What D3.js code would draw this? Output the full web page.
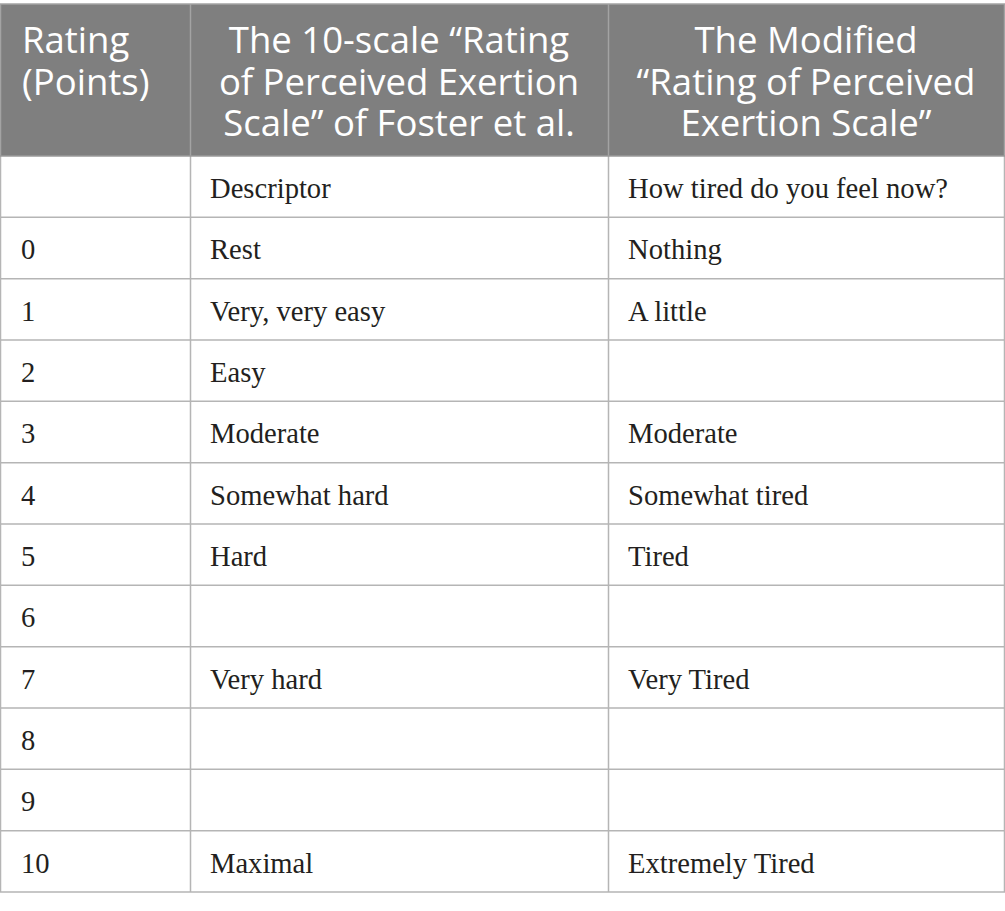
<!DOCTYPE html>
<html>
<head>
<meta charset="utf-8">
<script src="https://cdn.jsdelivr.net/npm/d3@7"></script>
<style>
  body { margin: 0; background: #fff; }
  svg { display: block; }
</style>
</head>
<body>
<div id="table"></div>
<script>

// header text, one entry per line, per column
var headers = [
	["Rating", "(Points)"],
	["The 10-scale \u201cRating", "of Perceived Exertion", "Scale\u201d of Foster et al."],
	["The Modified", "\u201cRating of Perceived", "Exertion Scale\u201d"]
]

var subHeader = ["", "Descriptor", "How tired do you feel now?"]

var ratings = ["0", "1", "2", "3", "4", "5", "6", "7", "8", "9", "10"]

var foster = ["Rest", "Very, very easy", "Easy", "Moderate", "Somewhat hard", "Hard", "", "Very hard", "", "", "Maximal"]

var modified = ["Nothing", "A little", "", "Moderate", "Somewhat tired", "Tired", "", "Very Tired", "", "", "Extremely Tired"]


var width = 1005, height = 911
var headTop = 4, headBottom = 156, tableBottom = 892
var colEdges = [0, 190, 608, 1004]

var rows = [subHeader].concat(ratings.map(function(r, i) { return [r, foster[i], modified[i]]; }))

var y = d3.scaleLinear()
	.domain([0, rows.length])
	.range([headBottom, tableBottom])

var svg = d3.select('#table')
	.append('svg')
	.attr('width', width)
	.attr('height', height)

// header background
svg.append("rect")
	.attr("x", colEdges[0])
	.attr("y", headTop)
	.attr("width", colEdges[3] - colEdges[0] + 1)
	.attr("height", headBottom - headTop)
	.attr("fill", "#7f7f7f")

// header column separators
svg.append("g")
	.selectAll("line")
	.data(colEdges)
	.enter().append("line")
	  .attr("x1", function(d) { return d + 0.5; })
	  .attr("x2", function(d) { return d + 0.5; })
	  .attr("y1", headTop)
	  .attr("y2", headBottom)
	  .attr("stroke", "#a3a3a3")
	  .attr("stroke-width", 1.5)

svg.append("line")
	.attr("x1", colEdges[0]).attr("x2", colEdges[3] + 1)
	.attr("y1", headTop).attr("y2", headTop)
	.attr("stroke", "#a3a3a3")
	.attr("stroke-width", 1.5)

// header text
var head = svg.append("g")
	.attr("font-family", "'Open Sans', sans-serif")
	.attr("font-size", 36.5)
	.attr("fill", "#fff")

headers.forEach(function(lines, c) {
	var left = c === 0
	head.selectAll(null)
		.data(lines)
		.enter().append("text")
		  .attr("x", left ? colEdges[c] + 22 : (colEdges[c] + colEdges[c + 1]) / 2)
		  .attr("y", function(d, i) { return 53 + i * 41.5; })
		  .attr("text-anchor", left ? "start" : "middle")
		  .text(function(d) { return d; })
})

// body grid
var grid = svg.append("g")
	.attr("stroke", "#b5b5b5")
	.attr("stroke-width", 1.5)

grid.selectAll(".hline")
	.data(d3.range(1, rows.length + 1))
	.enter().append("line")
	  .attr("x1", colEdges[0])
	  .attr("x2", colEdges[3] + 1)
	  .attr("y1", function(d) { return y(d); })
	  .attr("y2", function(d) { return y(d); })

grid.selectAll(".vline")
	.data(colEdges)
	.enter().append("line")
	  .attr("x1", function(d) { return d + 0.5; })
	  .attr("x2", function(d) { return d + 0.5; })
	  .attr("y1", headBottom)
	  .attr("y2", tableBottom)

grid.append("line")
	.attr("x1", colEdges[0]).attr("x2", colEdges[3] + 1)
	.attr("y1", headBottom).attr("y2", headBottom)
	.attr("stroke", "#9a9a9a")

// body text
var body = svg.append("g")
	.attr("font-family", "'Liberation Serif', 'Times New Roman', serif")
	.attr("font-size", 28.6)
	.attr("fill", "#231f20")

var rowG = body.selectAll(".row")
	.data(rows)
	.enter().append("g")
	  .attr("transform", function(d, i) { return "translate(0," + y(i) + ")"; })

rowG.selectAll("text")
	.data(function(d) { return d; })
	.enter().append("text")
	  .attr("x", function(d, c) { return colEdges[c] + (c === 0 ? 21 : 20); })
	  .attr("y", 42)
	  .text(function(d) { return d; })

</script>
</body>
</html>
